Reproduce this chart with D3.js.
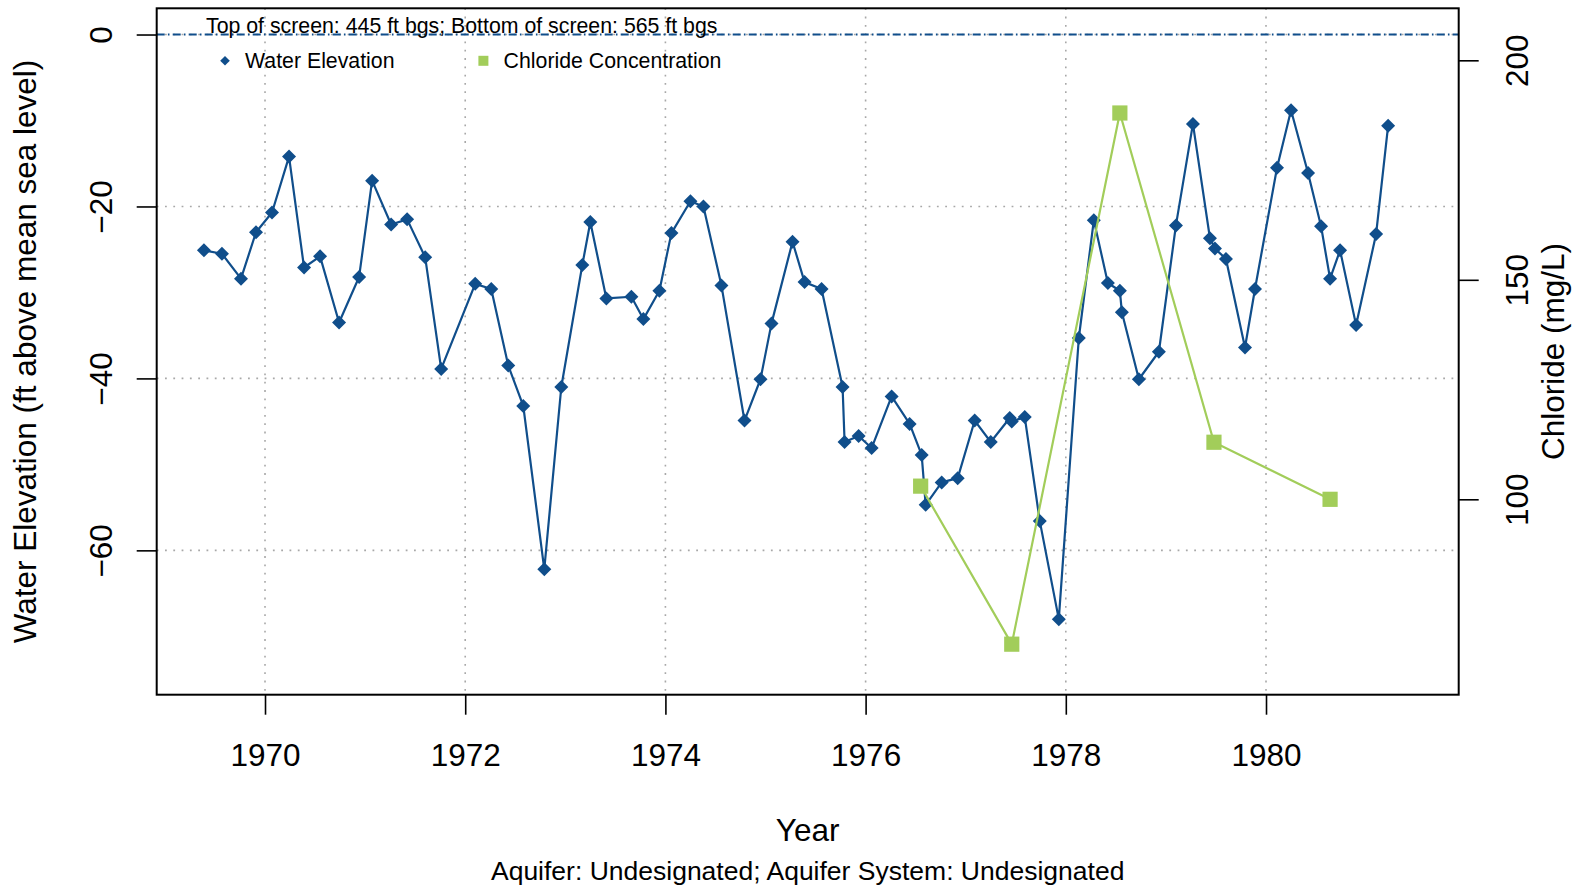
<!DOCTYPE html>
<html>
<head>
<meta charset="utf-8">
<script src="https://cdn.jsdelivr.net/npm/d3@7"></script>
<style>
  html, body { margin: 0; padding: 0; background: #ffffff; }
  svg { display: block; font-family: "Liberation Sans", Arial, Helvetica, sans-serif; }
</style>
</head>
<body>
<svg id="chart" width="1589" height="888"></svg>
<script>
// Water level measurements (decimal year, ft above mean sea level)
const waterDates = [
  1969.39, 1969.57, 1969.76, 1969.91, 1970.07, 1970.24, 1970.39, 1970.55, 1970.74, 1970.94,
  1971.07, 1971.26, 1971.42, 1971.60, 1971.76, 1972.10, 1972.26, 1972.43, 1972.58, 1972.79,
  1972.96, 1973.17, 1973.25, 1973.41, 1973.66, 1973.78, 1973.94, 1974.06, 1974.25, 1974.38,
  1974.56, 1974.79, 1974.95, 1975.06, 1975.27, 1975.39, 1975.56, 1975.77, 1975.79, 1975.93,
  1976.06, 1976.26, 1976.44, 1976.56, 1976.60, 1976.76, 1976.92, 1977.09, 1977.25, 1977.44,
  1977.46, 1977.59, 1977.74, 1977.93, 1978.13, 1978.28, 1978.42, 1978.54, 1978.56, 1978.73,
  1978.93, 1979.10, 1979.27, 1979.44, 1979.49, 1979.60, 1979.79, 1979.89, 1980.11, 1980.25,
  1980.42, 1980.55, 1980.64, 1980.74, 1980.90, 1981.10, 1981.22
];
const waterLevels = [
  -25.1, -25.5, -28.4, -23.0, -20.7, -14.2, -27.1, -25.8, -33.5, -28.2,
  -17.0, -22.1, -21.5, -25.9, -38.9, -29.0, -29.6, -38.5, -43.2, -62.2,
  -41.0, -26.8, -21.8, -30.7, -30.5, -33.1, -29.8, -23.1, -19.4, -20.0,
  -29.2, -44.9, -40.1, -33.6, -24.1, -28.8, -29.6, -41.0, -47.4, -46.7,
  -48.1, -42.1, -45.3, -48.9, -54.7, -52.1, -51.6, -44.9, -47.4, -44.6,
  -45.0, -44.5, -56.6, -68.0, -35.3, -21.6, -28.9, -29.8, -32.3, -40.1,
  -36.9, -22.2, -10.4, -23.7, -24.9, -26.1, -36.4, -29.6, -15.5, -8.8,
  -16.1, -22.3, -28.4, -25.1, -33.8, -23.2, -10.6
];

// Chloride samples (decimal year, mg/L)
const chlorideDates  = [1976.55, 1977.46, 1978.54, 1979.48, 1980.64];
const chlorideValues = [103, 67, 188, 113, 100];

// Axis ticks
const yearTicks     = [1970, 1972, 1974, 1976, 1978, 1980];
const elevTicks     = [0, -20, -40, -60];
const chlorideTicks = [100, 150, 200];

// Text
const screenNote    = "Top of screen: 445 ft bgs; Bottom of screen: 565 ft bgs";
const legendLabels  = ["Water Elevation", "Chloride Concentration"];
const xTitle        = "Year";
const subTitle      = "Aquifer: Undesignated; Aquifer System: Undesignated";
const yLeftTitle    = "Water Elevation (ft above mean sea level)";
const yRightTitle   = "Chloride (mg/L)";

const BLUE  = "#104E8B";
const GREEN = "#A2CD5A";
const GRID  = "#a8a8a8";

const svg = d3.select("#chart");
const plot = { left: 156.7, right: 1458.7, top: 8.3, bottom: 694.7 };

const x  = d3.scaleLinear().domain([1968.918, 1981.925]).range([plot.left, plot.right]);
const yL = d3.scaleLinear().domain([-76.79, 3.05]).range([plot.bottom, plot.top]);
const yR = d3.scaleLinear().domain([55.49, 211.85]).range([plot.bottom, plot.top]);

const water = waterDates.map((t, i) => ({ t, v: waterLevels[i] }));
const chloride = chlorideDates.map((t, i) => ({ t, v: chlorideValues[i] }));

// Dotted grid
const grid = svg.append("g").attr("fill", "none").attr("stroke", GRID)
  .attr("stroke-width", 1.6).attr("stroke-dasharray", "1.8,6.5");
grid.selectAll("line.v").data(yearTicks).join("line")
  .attr("x1", d => x(d)).attr("x2", d => x(d))
  .attr("y1", plot.top).attr("y2", plot.bottom);
grid.selectAll("line.h").data(elevTicks).join("line")
  .attr("x1", plot.left).attr("x2", plot.right)
  .attr("y1", d => yL(d)).attr("y2", d => yL(d));

// Reference line at 0 ft
svg.append("line")
  .attr("x1", plot.left).attr("x2", plot.right)
  .attr("y1", yL(0)).attr("y2", yL(0))
  .attr("stroke", BLUE).attr("stroke-width", 2)
  .attr("stroke-dasharray", "8,3.2,1.6,3.2");

// Water elevation series
svg.append("path").datum(water)
  .attr("fill", "none").attr("stroke", BLUE).attr("stroke-width", 2.2)
  .attr("stroke-linejoin", "round")
  .attr("d", d3.line().x(d => x(d.t)).y(d => yL(d.v)));

const diamond = r => `M0,${-r}L${r},0L0,${r}L${-r},0Z`;
svg.append("g").selectAll("path").data(water).join("path")
  .attr("transform", d => `translate(${x(d.t)},${yL(d.v)})`)
  .attr("d", diamond(7)).attr("fill", BLUE);

// Chloride series
svg.append("path").datum(chloride)
  .attr("fill", "none").attr("stroke", GREEN).attr("stroke-width", 2.2)
  .attr("d", d3.line().x(d => x(d.t)).y(d => yR(d.v)));
svg.append("g").selectAll("rect").data(chloride).join("rect")
  .attr("x", d => x(d.t) - 7.6).attr("y", d => yR(d.v) - 7.6)
  .attr("width", 15.2).attr("height", 15.2).attr("fill", GREEN);

// Axes
const styleAxis = g => {
  g.attr("font-family", null).attr("font-size", 31.5);
  g.select(".domain").remove();
  g.selectAll(".tick line").attr("stroke", "#000").attr("stroke-width", 1.6);
  g.selectAll(".tick text").attr("fill", "#000");
};

svg.append("g")
  .attr("transform", `translate(0,${plot.bottom})`)
  .call(d3.axisBottom(x).tickValues(yearTicks).tickFormat(d3.format("d")).tickSize(20).tickPadding(29))
  .call(styleAxis);

svg.append("g")
  .attr("transform", `translate(${plot.left},0)`)
  .call(d3.axisLeft(yL).tickValues(elevTicks).tickSize(20))
  .call(styleAxis)
  .selectAll(".tick text")
  .attr("transform", "rotate(-90)")
  .attr("x", 0).attr("y", -44.4).attr("dy", null)
  .attr("text-anchor", "middle");

svg.append("g")
  .attr("transform", `translate(${plot.right},0)`)
  .call(d3.axisRight(yR).tickValues(chlorideTicks).tickSize(20))
  .call(styleAxis)
  .selectAll(".tick text")
  .attr("transform", "rotate(-90)")
  .attr("x", 0).attr("y", 69.6).attr("dy", null)
  .attr("text-anchor", "middle");

// Plot frame
svg.append("rect")
  .attr("x", plot.left).attr("y", plot.top)
  .attr("width", plot.right - plot.left).attr("height", plot.bottom - plot.top)
  .attr("fill", "none").attr("stroke", "#000").attr("stroke-width", 2);

// Screen interval note and legend
svg.append("text").attr("x", 206).attr("y", 33)
  .attr("font-size", 21.3).text(screenNote);

svg.append("path").attr("transform", "translate(225,60.7)")
  .attr("d", diamond(4.8)).attr("fill", BLUE);
svg.append("text").attr("x", 245).attr("y", 68.2)
  .attr("font-size", 21.3).text(legendLabels[0]);
svg.append("rect").attr("x", 483.4 - 5).attr("y", 60.8 - 5)
  .attr("width", 10).attr("height", 10).attr("fill", GREEN);
svg.append("text").attr("x", 503.6).attr("y", 68.2)
  .attr("font-size", 21.3).text(legendLabels[1]);

// Titles
const midX = (plot.left + plot.right) / 2;
const midY = (plot.top + plot.bottom) / 2;
svg.append("text").attr("x", midX).attr("y", 840.5)
  .attr("text-anchor", "middle").attr("font-size", 31.5).text(xTitle);
svg.append("text").attr("x", midX).attr("y", 880)
  .attr("text-anchor", "middle").attr("font-size", 26.5).text(subTitle);
svg.append("text").attr("transform", `translate(35.5,${midY}) rotate(-90)`)
  .attr("text-anchor", "middle").attr("font-size", 31.5).text(yLeftTitle);
svg.append("text").attr("transform", `translate(1564,${midY}) rotate(-90)`)
  .attr("text-anchor", "middle").attr("font-size", 31.5).text(yRightTitle);
</script>
</body>
</html>
